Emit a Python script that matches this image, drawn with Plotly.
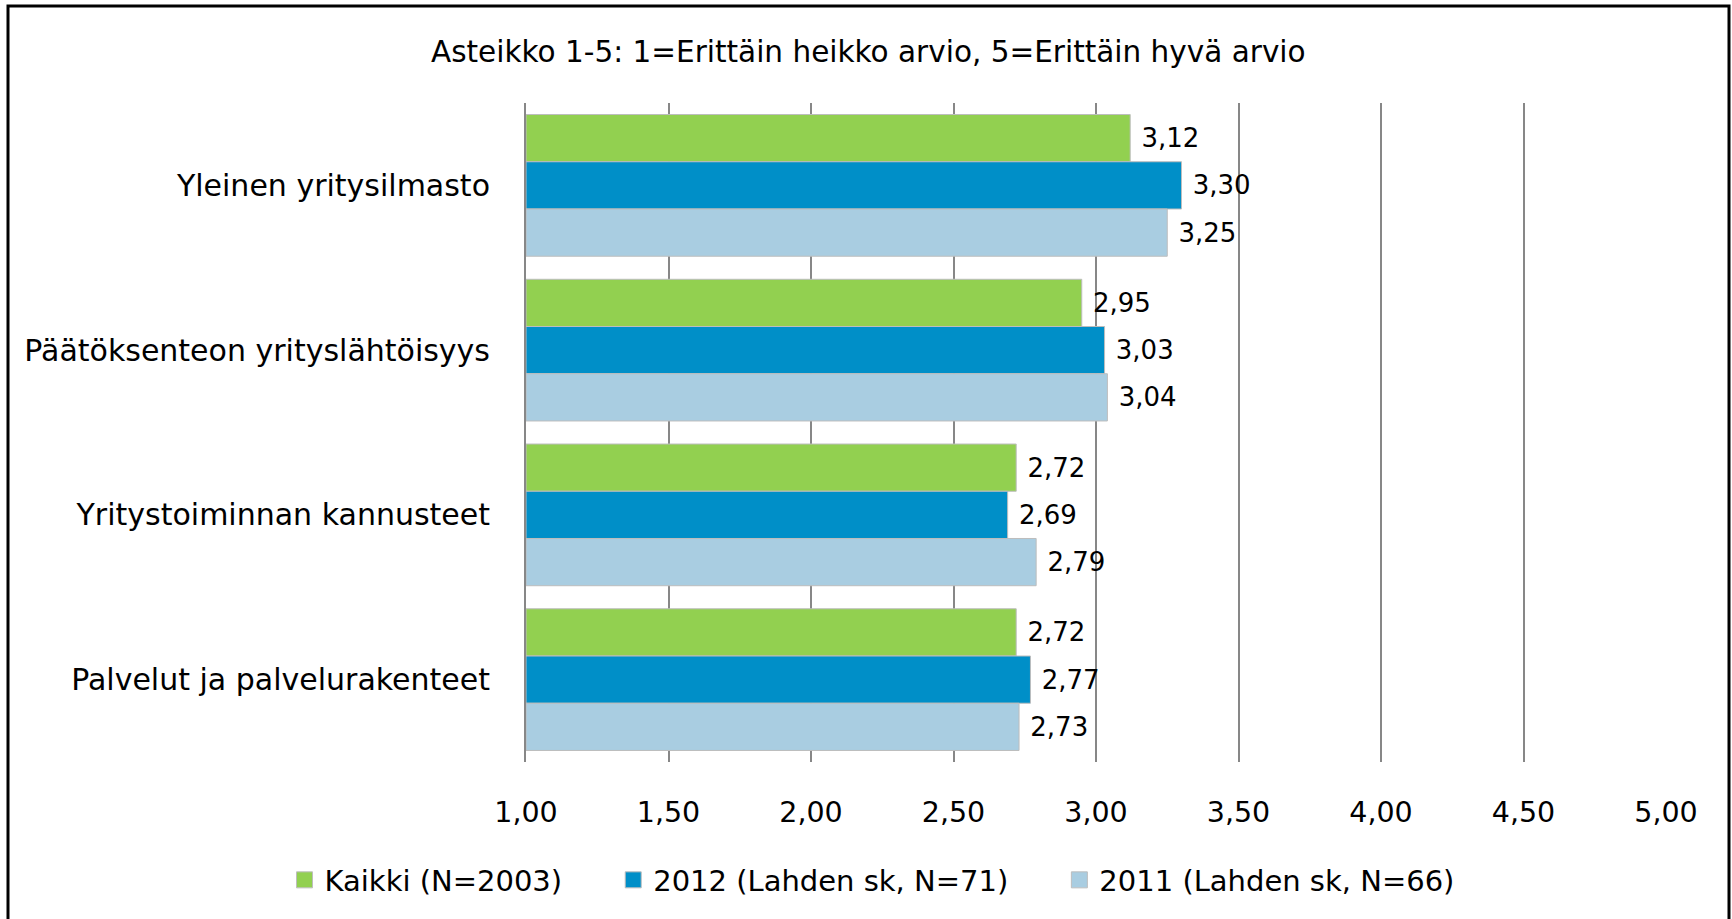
import plotly.graph_objects as go

categories = ["Yleinen yritysilmasto", "Päätöksenteon yrityslähtöisyys",
              "Yritystoiminnan kannusteet", "Palvelut ja palvelurakenteet"]
kaikki = [3.12, 2.95, 2.72, 2.72]
v2012 = [3.30, 3.03, 2.69, 2.77]
v2011 = [3.25, 3.04, 2.79, 2.73]
series_names = ["Kaikki (N=2003)", "2012 (Lahden sk, N=71)", "2011 (Lahden sk, N=66)"]
colors = ["#92D050", "#008FC8", "#A9CDE1"]
tick_vals = [1.0, 1.5, 2.0, 2.5, 3.0, 3.5, 4.0, 4.5, 5.0]
tick_text = ["1,00", "1,50", "2,00", "2,50", "3,00", "3,50", "4,00", "4,50", "5,00"]
title_text = "Asteikko 1-5: 1=Erittäin heikko arvio, 5=Erittäin hyvä arvio"

FONT = "DejaVu Sans"
W, H = 1732, 919
L, R, T, B = 526, 1666, 103, 762
BASE = 1.0

fig = go.Figure()
for name, vals, col in zip(series_names, [kaikki, v2012, v2011], colors):
    fig.add_trace(go.Bar(
        y=categories, x=[v - BASE for v in vals], base=BASE, orientation="h", name=name,
        marker=dict(color=col, line=dict(color="#BDBDBD", width=1)),
        text=["\u00a0" + f"{v:.2f}".replace(".", ",") for v in vals],
        textposition="outside", cliponaxis=False,
        textfont=dict(family=FONT, size=26, color="#000000"),
        showlegend=False, hoverinfo="x+y",
    ))

# legend entries (square markers)
pads = ["\u00a0" * 5, "\u00a0" * 5, ""]
for name, col, pad in zip(series_names, colors, pads):
    fig.add_trace(go.Scatter(
        x=[None], y=[None], mode="markers", name=name + pad,
        marker=dict(symbol="square", size=16, color=col, line=dict(color="#BDBDBD", width=1)),
        showlegend=True,
    ))

def px_x(px):
    return (px - L) / (R - L)

def px_y(py):
    return (B - py) / (B - T)

fig.update_layout(
    width=W, height=H,
    margin=dict(l=L, r=W - R, t=T, b=H - B, autoexpand=False),
    paper_bgcolor="white", plot_bgcolor="white",
    barmode="group", bargap=0.14, bargroupgap=0,
    font=dict(family=FONT, color="#000000"),
    showlegend=True,
    legend=dict(orientation="h", x=px_x(284.5), y=px_y(880), xanchor="left", yanchor="middle",
                font=dict(family=FONT, size=29), traceorder="normal", itemsizing="trace"),
    xaxis=dict(range=[1, 5], tickvals=tick_vals, ticktext=tick_text,
               showgrid=True, gridcolor="#878787", gridwidth=1.5,
               zeroline=False, showline=False, ticks="",
               tickfont=dict(family=FONT, size=28.5), ticklabelstandoff=30),
    yaxis=dict(autorange="reversed", showline=True, linecolor="#878787", linewidth=2,
               ticks="", tickfont=dict(family=FONT, size=30), ticklabelstandoff=28),
    annotations=[dict(text=title_text, xref="paper", yref="paper",
                      x=px_x(868), y=px_y(52), xanchor="center", yanchor="middle",
                      showarrow=False, font=dict(family=FONT, size=29.5))],
    shapes=[dict(type="path", xref="paper", yref="paper",
                 path=f"M {px_x(8)} {px_y(960)} L {px_x(8)} {px_y(6)} L {px_x(1729)} {px_y(6)} L {px_x(1729)} {px_y(960)}",
                 line=dict(color="#000000", width=3))],
)
fig.write_html("out.html", config={"displayModeBar": False},
               post_script="document.body.style.margin='0';document.body.style.overflow='hidden';")
